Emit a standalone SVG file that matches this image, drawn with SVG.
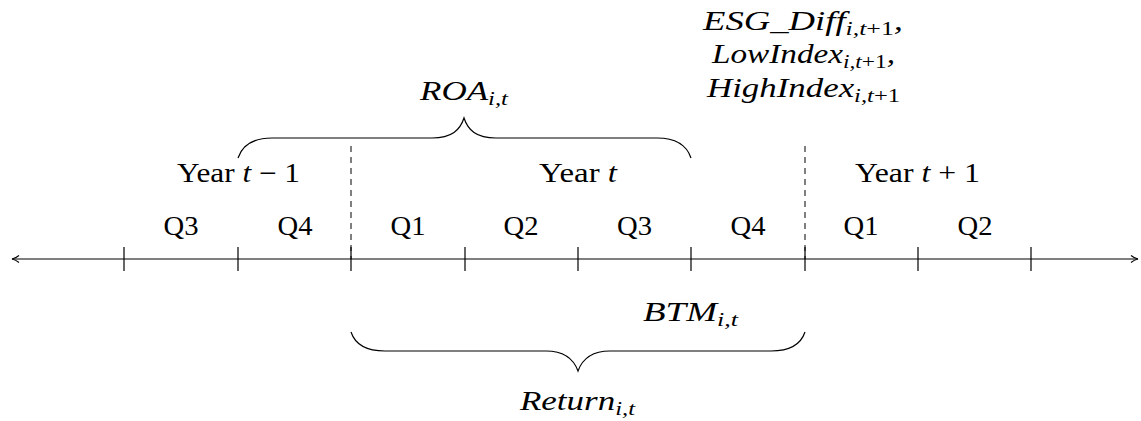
<svg xmlns="http://www.w3.org/2000/svg" width="1141" height="421" viewBox="0 0 1141 421">
<style>
text{font-family:"Liberation Serif","DejaVu Serif",serif;font-size:27px;fill:#000;text-anchor:middle}
.m{font-style:italic}
.s{font-size:19px}
.up{font-style:normal}
.ln{stroke:#000;stroke-width:1.2;fill:none}
.dash{stroke:#000;stroke-width:1;stroke-dasharray:6,5;fill:none}
</style>
<defs>
<marker id="ah" markerWidth="10" markerHeight="10" refX="8" refY="5" orient="auto-start-reverse" markerUnits="userSpaceOnUse">
<path d="M1,1.5 Q4,4 8,5 Q4,6 1,8.5" fill="none" stroke="#000" stroke-width="1.1"/>
</marker>
</defs>
<g id="connectors">
<line class="ln" x1="12" y1="259" x2="1138" y2="259" marker-start="url(#ah)" marker-end="url(#ah)"/>
<g id="ticks">
<line class="ln" x1="124" y1="247" x2="124" y2="271"/>
<line class="ln" x1="238" y1="247" x2="238" y2="271"/>
<line class="ln" x1="351" y1="247" x2="351" y2="271"/>
<line class="ln" x1="465" y1="247" x2="465" y2="271"/>
<line class="ln" x1="578" y1="247" x2="578" y2="271"/>
<line class="ln" x1="691" y1="247" x2="691" y2="271"/>
<line class="ln" x1="805" y1="247" x2="805" y2="271"/>
<line class="ln" x1="918" y1="247" x2="918" y2="271"/>
<line class="ln" x1="1031" y1="247" x2="1031" y2="271"/>
</g>
<line class="dash" x1="351" y1="146" x2="351" y2="259"/>
<line class="dash" x1="805" y1="146" x2="805" y2="259"/>
<path id="brace-roa" class="ln" d="M238,158 C242,146 252,138 272,138 L432,138 C452,138 460,130 464,118 C468,130 476,138 496,138 L657,138 C677,138 687,146 691,158"/>
<path id="brace-return" class="ln" d="M351,332 C355,344 365,351 385,351 L546,351 C566,351 574,360 578,371 C582,360 590,351 610,351 L771,351 C791,351 801,344 805,332"/>
</g>
<g id="years">
<text x="238.5" y="182" textLength="123" lengthAdjust="spacingAndGlyphs">Year <tspan class="m">t</tspan> − 1</text>
<text x="578" y="182" textLength="78" lengthAdjust="spacingAndGlyphs">Year <tspan class="m">t</tspan></text>
<text x="917.5" y="182" textLength="125" lengthAdjust="spacingAndGlyphs">Year <tspan class="m">t</tspan> + 1</text>
</g>
<g id="quarters">
<text x="181" y="235" textLength="35" lengthAdjust="spacingAndGlyphs">Q3</text>
<text x="295" y="235" textLength="35" lengthAdjust="spacingAndGlyphs">Q4</text>
<text x="408" y="235" textLength="35" lengthAdjust="spacingAndGlyphs">Q1</text>
<text x="521" y="235" textLength="35" lengthAdjust="spacingAndGlyphs">Q2</text>
<text x="634.5" y="235" textLength="35" lengthAdjust="spacingAndGlyphs">Q3</text>
<text x="748" y="235" textLength="35" lengthAdjust="spacingAndGlyphs">Q4</text>
<text x="861" y="235" textLength="35" lengthAdjust="spacingAndGlyphs">Q1</text>
<text x="975" y="235" textLength="35" lengthAdjust="spacingAndGlyphs">Q2</text>
</g>
<g id="roa">
<text class="m" x="464" y="100" textLength="88" lengthAdjust="spacingAndGlyphs">ROA<tspan class="s" dy="5">i,t</tspan></text>
</g>
<g id="esg">
<text class="m" x="803" y="30" textLength="200" lengthAdjust="spacingAndGlyphs">ESG_Diff<tspan class="s" dy="5">i,t<tspan class="up">+1</tspan></tspan><tspan dy="-5">,</tspan></text>
<text class="m" x="803.5" y="63" textLength="183" lengthAdjust="spacingAndGlyphs">LowIndex<tspan class="s" dy="5">i,t<tspan class="up">+1</tspan></tspan><tspan dy="-5">,</tspan></text>
<text class="m" x="803.5" y="97" textLength="193" lengthAdjust="spacingAndGlyphs">HighIndex<tspan class="s" dy="5">i,t<tspan class="up">+1</tspan></tspan></text>
</g>
<g id="btm">
<text class="m" x="690.5" y="321" textLength="95" lengthAdjust="spacingAndGlyphs">BTM<tspan class="s" dy="5">i,t</tspan></text>
</g>
<g id="return">
<text class="m" x="577.5" y="410" textLength="115" lengthAdjust="spacingAndGlyphs">Return<tspan class="s" dy="5">i,t</tspan></text>
</g>
</svg>
